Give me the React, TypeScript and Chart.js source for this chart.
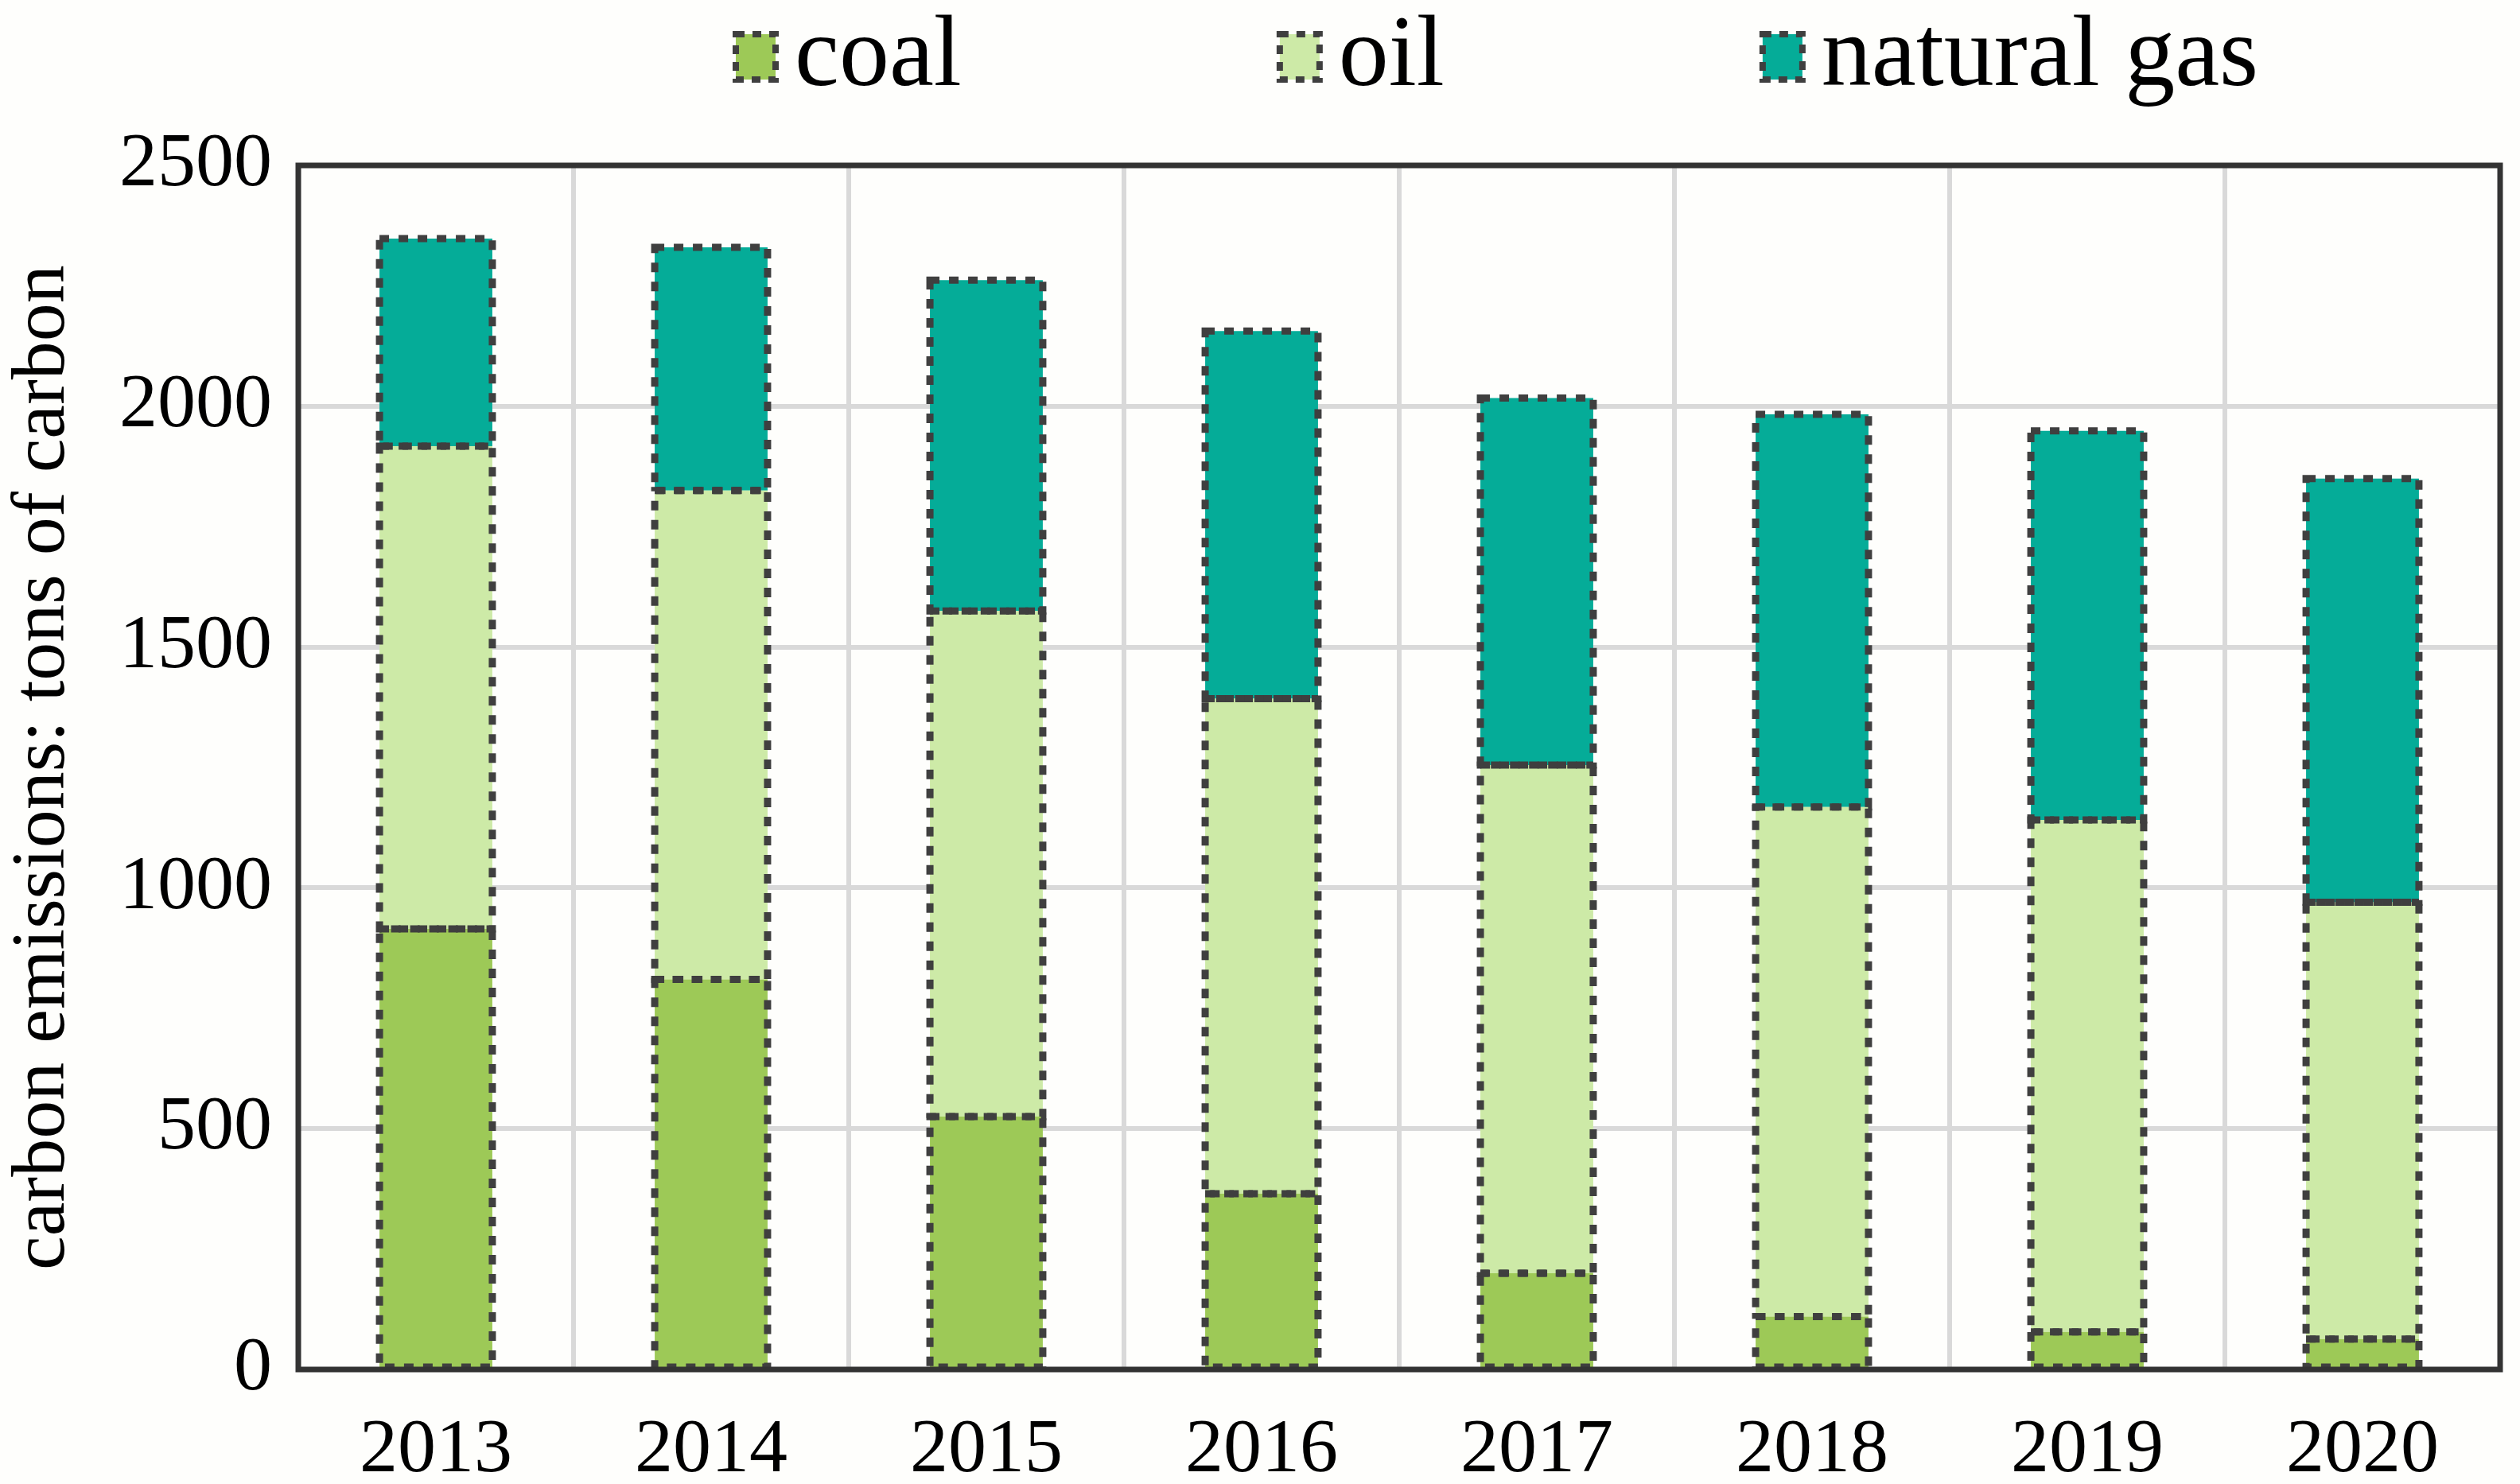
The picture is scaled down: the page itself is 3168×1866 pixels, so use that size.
import { useEffect, useRef } from "react"
import { Chart, registerables, Plugin } from "chart.js"

Chart.register(...registerables)

// Data
const years = ["2013", "2014", "2015", "2016", "2017", "2018", "2019", "2020"]
const coal = [915, 810, 525, 365, 200, 110, 78, 63]
const oil = [1002, 1015, 1050, 1028, 1055, 1058, 1063, 907]
const naturalGas = [431, 505, 687, 763, 762, 815, 808, 880]
const yTicks = [0, 500, 1000, 1500, 2000, 2500]

const seriesNames = ["coal", "oil", "natural gas"]
const seriesColors = ["#9dc957", "#cdeaa7", "#05ac98"]

const FONT = "'Liberation Serif', 'Times New Roman', serif"
const DASH_COLOR = "#3f3f3f"
const FRAME_COLOR = "#333333"

// white-ish page background
const background: Plugin<"bar"> = {
  id: "background",
  beforeDraw: (chart) => {
    const ctx = chart.ctx
    ctx.save()
    ctx.fillStyle = "#fefefc"
    ctx.fillRect(0, 0, chart.width, chart.height)
    ctx.restore()
  },
}

// dotted outline round every bar segment + dark frame round the plot
const dashedBars: Plugin<"bar"> = {
  id: "dashedBars",
  afterDatasetsDraw: (chart) => {
    const ctx = chart.ctx
    ctx.save()
    ctx.strokeStyle = DASH_COLOR
    ctx.lineWidth = 9
    ctx.setLineDash([12, 12])
    chart.data.datasets.forEach((_, i) => {
      const meta = chart.getDatasetMeta(i)
      meta.data.forEach((el) => {
        const { x, y, base, width } = el.getProps(["x", "y", "base", "width"], true) as any
        ctx.strokeRect(x - width / 2, y, width, base - y)
      })
    })
    ctx.setLineDash([])
    const a = chart.chartArea
    ctx.strokeStyle = FRAME_COLOR
    ctx.lineWidth = 7
    ctx.strokeRect(a.left, a.top, a.right - a.left, a.bottom - a.top)
    ctx.restore()
  },
}

// legend drawn across the top, wide gaps like the reference
const topLegend: Plugin<"bar"> = {
  id: "topLegend",
  afterDraw: (chart) => {
    const ctx = chart.ctx
    ctx.save()
    ctx.font = `126px ${FONT}`
    ctx.textBaseline = "alphabetic"
    ctx.textAlign = "left"
    let x = 925
    seriesNames.forEach((name, i) => {
      ctx.fillStyle = seriesColors[i]
      ctx.fillRect(x, 43, 50, 57)
      ctx.strokeStyle = DASH_COLOR
      ctx.lineWidth = 8
      ctx.setLineDash([11, 10])
      ctx.strokeRect(x, 43, 50, 57)
      ctx.setLineDash([])
      ctx.fillStyle = "#000"
      ctx.fillText(name, x + 74, 107)
      x += 74 + ctx.measureText(name).width + 400
    })
    ctx.restore()
  },
}

export default function App() {
  const canvasRef = useRef<HTMLCanvasElement>(null)
  const chartRef = useRef<Chart<"bar"> | null>(null)

  useEffect(() => {
    if (!canvasRef.current) return
    if (chartRef.current) chartRef.current.destroy()

    const tickFont = { family: FONT, size: 96, lineHeight: 1.15 }

    chartRef.current = new Chart(canvasRef.current, {
      type: "bar",
      data: {
        labels: years,
        datasets: [coal, oil, naturalGas].map((values, i) => ({
          label: seriesNames[i],
          data: values,
          backgroundColor: seriesColors[i],
          borderWidth: 0,
          barPercentage: 0.41,
          categoryPercentage: 1,
        })),
      },
      options: {
        responsive: true,
        maintainAspectRatio: false,
        animation: false,
        layout: { padding: { top: 208, right: 25, left: 0, bottom: 0 } },
        plugins: {
          legend: { display: false },
          tooltip: { enabled: false },
        },
        scales: {
          x: {
            stacked: true,
            offset: true,
            grid: { offset: true, color: "#d9d9d9", lineWidth: 6, drawTicks: false },
            border: { display: false },
            ticks: { font: tickFont, color: "#000", padding: 48, maxRotation: 0 },
            afterFit: (scale) => {
              scale.height = 144
            },
          },
          y: {
            stacked: true,
            min: yTicks[0],
            max: yTicks[yTicks.length - 1],
            grid: { color: "#d9d9d9", lineWidth: 6, drawTicks: false },
            border: { display: false },
            afterBuildTicks: (scale) => {
              scale.ticks = yTicks.map((v) => ({ value: v }))
            },
            ticks: {
              font: tickFont,
              color: "#000",
              padding: 33,
              callback: (value) => String(value),
            },
            title: {
              display: true,
              text: "carbon emissions: tons of carbon",
              color: "#000",
              font: { family: FONT, size: 96, lineHeight: 1.15 },
              padding: 0,
            },
            afterFit: (scale) => {
              scale.width = 375
            },
          },
        },
      },
      plugins: [background, dashedBars, topLegend],
    })

    return () => {
      if (chartRef.current) {
        chartRef.current.destroy()
        chartRef.current = null
      }
    }
  }, [])

  return (
    <div style={{ position: "absolute", left: 0, top: 0, width: 3168, height: 1866 }}>
      <canvas ref={canvasRef} />
    </div>
  )
}
